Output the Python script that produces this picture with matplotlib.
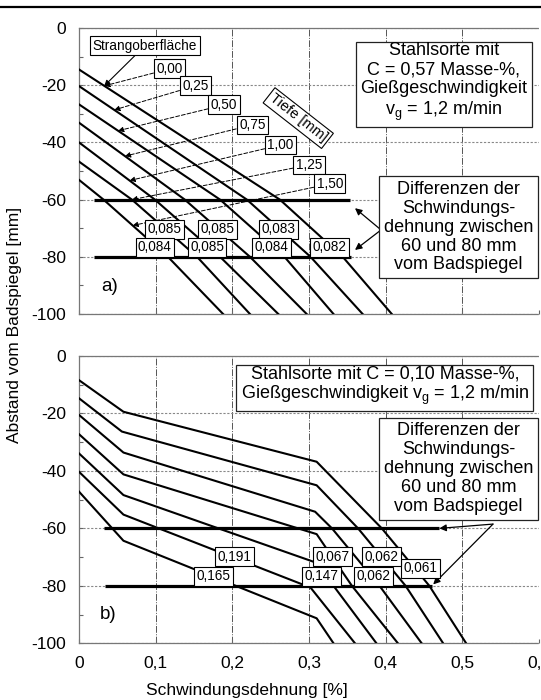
import numpy as np
import matplotlib
matplotlib.use('Agg')
import matplotlib.pyplot as plt
from matplotlib.ticker import MultipleLocator, FuncFormatter
from matplotlib.lines import Line2D

plt.rcParams['font.family'] = ['Liberation Sans', 'DejaVu Sans']
plt.rcParams['mathtext.fontset'] = 'custom'
plt.rcParams['mathtext.rm'] = 'Liberation Sans'
plt.rcParams['mathtext.it'] = 'Liberation Sans:italic'
plt.rcParams['axes.unicode_minus'] = False

# ---------------- data: panel a) C = 0,57 % ----------------
a_depth_labels = ['0,00', '0,25', '0,50', '0,75', '1,00', '1,25', '1,50']
a_y0 = [-14.5, -20.3, -26.7, -33.1, -40.0, -46.7, -53.1]      # depth at x = 0
a_x60 = [0.262, 0.219, 0.184, 0.138, 0.099, 0.069, 0.032]     # strain at -60 mm
a_x80 = [0.344, 0.302, 0.268, 0.223, 0.184, 0.154, 0.116]     # strain at -80 mm
a_x100 = [0.408, 0.370, 0.332, 0.297, 0.260, 0.223, 0.188]    # strain at -100 mm
a_diff = ['0,082', '0,083', '0,084', '0,085', '0,085', '0,085', '0,084']
a_hl_y = [-60, -80]
a_hl_x0 = [0.019, 0.019]
a_hl_x1 = [0.354, 0.355]

# ---------------- data: panel b) C = 0,10 % ----------------
b_x = [
    [0.0, 0.058, 0.310, 0.395, 0.457, 0.505],
    [0.0, 0.056, 0.310, 0.364, 0.426, 0.475],
    [0.0, 0.058, 0.308, 0.330, 0.392, 0.447],
    [0.0, 0.058, 0.310, 0.356, 0.416],
    [0.0, 0.058, 0.310, 0.332, 0.388],
    [0.0, 0.058, 0.302, 0.360],
    [0.0, 0.058, 0.310, 0.332],
]
b_y = [
    [-8.4, -19.4, -36.8, -60.0, -80.0, -100.0],
    [-14.7, -26.3, -45.0, -60.0, -80.0, -100.0],
    [-20.5, -33.6, -54.2, -60.0, -80.0, -100.0],
    [-27.2, -41.2, -62.0, -80.0, -100.0],
    [-33.9, -48.4, -72.0, -80.0, -100.0],
    [-40.3, -55.2, -80.6, -100.0],
    [-47.2, -64.3, -91.3, -100.0],
]
b_diff = ['0,061', '0,062', '0,062', '0,067', '0,147', '0,191', '0,165']
b_hl_y = [-60, -80]
b_hl_x0 = [0.032, 0.034]
b_hl_x1 = [0.470, 0.460]

x_ticks = [0, 0.1, 0.2, 0.3, 0.4, 0.5, 0.6]
y_ticks = [0, -20, -40, -60, -80, -100]

# ---------------- figure ----------------
fig = plt.figure(figsize=(5.41, 7.0), dpi=100)
ax1 = fig.add_axes([0.146, 0.5514, 0.8503, 0.4086])
ax2 = fig.add_axes([0.146, 0.081, 0.8503, 0.4104])

fmt = FuncFormatter(lambda v, p: ('%g' % round(v, 3)).replace('.', ','))


def style(ax):
    ax.set_xlim(0, 0.6)
    ax.set_ylim(-100, 0)
    ax.set_xticks(x_ticks)
    ax.set_yticks(y_ticks)
    ax.yaxis.set_minor_locator(MultipleLocator(10))
    ax.xaxis.set_major_formatter(fmt)
    ax.yaxis.set_major_formatter(fmt)
    ax.tick_params(which='both', direction='in', length=3, width=0.8,
                   color='#666', labelsize=12.5, pad=9)
    ax.grid(axis='x', color='#555', lw=0.7, ls=(0, (7, 1.5, 1, 1.5)))
    ax.grid(axis='y', color='#888', lw=0.8, ls=(0, (2, 1.5)))
    ax.set_axisbelow(True)
    for s in ['left', 'bottom', 'top']:
        ax.spines[s].set_color('#777')
        ax.spines[s].set_linewidth(0.9)
    ax.spines['top'].set_linestyle((0, (3, 1)))
    ax.spines['bottom'].set_linestyle((0, (3, 1)))
    ax.spines['right'].set_visible(False)


style(ax1)
style(ax2)
ax1.tick_params(labelbottom=False)

small_box = dict(boxstyle='square,pad=0.18', fc='white', ec='black', lw=0.8)
big_box = dict(boxstyle='square,pad=0.25', fc='white', ec='#222', lw=0.9)
dash_arrow = dict(arrowstyle='-|>', color='k', lw=0.7, ls=(0, (4, 2)),
                  mutation_scale=8, shrinkA=0, shrinkB=0)
solid_arrow = dict(arrowstyle='-|>', color='k', lw=0.9, mutation_scale=10,
                   shrinkA=0, shrinkB=0)
SMALL = 9.8
BIG = 13

# ---- panel a curves ----
a_lines = []
for i in range(len(a_y0)):
    xs = [0.0, a_x60[i], a_x80[i], a_x100[i]]
    ys = [a_y0[i], -60.0, -80.0, -100.0]
    a_lines.append((xs, ys))
    ax1.plot(xs, ys, color='k', lw=1.5, zorder=3)

ax1.hlines(a_hl_y, a_hl_x0, a_hl_x1, color='k', lw=2.3, zorder=4)

# depth labels with dashed arrows
a_lab_pos = [(0.118, -14.3), (0.152, -20.2), (0.189, -26.9), (0.226, -33.9),
             (0.263, -40.9), (0.300, -47.9), (0.327, -54.5)]
a_arrow_x = [0.033, 0.046, 0.051, 0.060, 0.066, 0.069, 0.070]
for i, lbl in enumerate(a_depth_labels):
    xs, ys = a_lines[i]
    xt = a_arrow_x[i]
    yt = np.interp(xt, xs, ys)
    ax1.annotate(lbl, xy=(xt, yt), xytext=a_lab_pos[i], ha='center', va='center',
                 fontsize=SMALL, bbox=small_box, arrowprops=dash_arrow, zorder=6)

xs0, ys0 = a_lines[0]
ax1.annotate('Strangoberfläche', xy=(0.033, np.interp(0.033, xs0, ys0)),
             xytext=(0.086, -6.2), ha='center', va='center', fontsize=SMALL,
             bbox=small_box,
             arrowprops=dict(arrowstyle='-|>', color='k', lw=0.8,
                             mutation_scale=8, shrinkA=0, shrinkB=0), zorder=6)

ax1.text(0.286, -31.5, 'Tiefe [mm]', rotation=-38, rotation_mode='anchor',
         ha='center', va='center', fontsize=10.5, bbox=small_box, zorder=6)

# difference labels panel a
for i, lbl in enumerate(a_diff):
    if i % 2 == 0:
        pos = (a_x80[i] - 0.017, -76.6)
    else:
        pos = ((a_x60[i] + a_x80[i]) / 2, -70.3)
    ax1.text(pos[0], pos[1], lbl, ha='center', va='center', fontsize=SMALL,
             bbox=small_box, zorder=6)

ax1.text(0.476, -19.0,
         'Stahlsorte mit\nC = 0,57 Masse-%,\nGießgeschwindigkeit\nv$_\\mathrm{g}$ = 1,2 m/min',
         ha='center', va='center', fontsize=BIG, linespacing=1.15,
         bbox=big_box, zorder=6)
ax1.text(0.495, -69.6,
         'Differenzen der\nSchwindungs-\ndehnung zwischen\n60 und 80 mm\nvom Badspiegel',
         ha='center', va='center', fontsize=BIG, linespacing=1.15,
         bbox=big_box, zorder=6)
ax1.annotate('', xy=(0.360, -63.0), xytext=(0.394, -70.6), arrowprops=solid_arrow)
ax1.annotate('', xy=(0.360, -77.6), xytext=(0.394, -70.6), arrowprops=solid_arrow)
ax1.text(0.029, -90.4, 'a)', ha='left', va='center', fontsize=13.5)

# ---- panel b curves ----
for xs, ys in zip(b_x, b_y):
    ax2.plot(xs, ys, color='k', lw=1.5, zorder=3)

ax2.hlines(b_hl_y, b_hl_x0, b_hl_x1, color='k', lw=2.3, zorder=4)

b_lab_pos = [(0.445, -73.9), (0.395, -69.9), (0.384, -76.6), (0.331, -69.9),
             (0.316, -76.6), (0.203, -69.9), (0.175, -76.6)]
for lbl, pos in zip(b_diff, b_lab_pos):
    ax2.text(pos[0], pos[1], lbl, ha='center', va='center', fontsize=SMALL,
             bbox=small_box, zorder=6)

ax2.text(0.399, -10.4,
         'Stahlsorte mit C = 0,10 Masse-%,\nGießgeschwindigkeit v$_\\mathrm{g}$ = 1,2 m/min',
         ha='center', va='center', fontsize=BIG, linespacing=1.1,
         bbox=big_box, zorder=6)
ax2.text(0.495, -39.2,
         'Differenzen der\nSchwindungs-\ndehnung zwischen\n60 und 80 mm\nvom Badspiegel',
         ha='center', va='center', fontsize=BIG, linespacing=1.15,
         bbox=big_box, zorder=6)
ax2.annotate('', xy=(0.470, -60.0), xytext=(0.540, -58.5), arrowprops=solid_arrow)
ax2.annotate('', xy=(0.462, -79.5), xytext=(0.540, -58.5), arrowprops=solid_arrow)
ax2.text(0.027, -90.1, 'b)', ha='left', va='center', fontsize=13.5)

# ---- labels and rule ----
fig.text(15 / 541, 1 - 325 / 700, 'Abstand vom Badspiegel [mm]', rotation=90,
         ha='center', va='center', fontsize=12.5)
fig.text(246.5 / 541, 1 - 690 / 700, 'Schwindungsdehnung [%]', ha='center',
         va='center', fontsize=12.5)
fig.add_artist(Line2D([0, 1], [1 - 7 / 700] * 2, color='k', lw=1.6,
                      transform=fig.transFigure))

fig.savefig('out.png', dpi=100)
